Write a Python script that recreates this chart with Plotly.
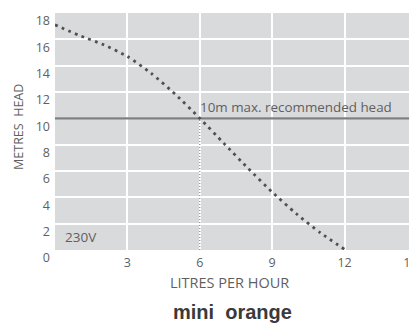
import plotly.graph_objects as go

# pump curve
flow_lph = [0, 1, 2, 3, 4, 5, 6, 7, 8, 9, 10, 11, 12]
head_m = [17.1, 16.3, 15.6, 14.7, 13.4, 11.8, 10.0, 8.1, 6.2, 4.4, 2.75, 1.3, 0.05]

x_ticks = [3, 6, 9, 12, 15]
x_labels = ["3", "6", "9", "12", "15\u00a0\u00a0\u00a0\u00a0"]
y_ticks = [0, 2, 4, 6, 8, 10, 12, 14, 16, 18]
max_head = 10
max_flow = 6

GREY = "#5f5f5f"
FONT = "Open Sans"

fig = go.Figure()

# max head reference line
fig.add_trace(go.Scatter(x=[0, 15], y=[max_head, max_head], mode="lines",
                         line=dict(color="#7d7e80", width=2.2),
                         hoverinfo="skip"))
# drop line to the flow axis
fig.add_trace(go.Scatter(x=[max_flow, max_flow], y=[0, max_head], mode="lines",
                         line=dict(color="#707070", width=1, dash="1px,2px"),
                         hoverinfo="skip"))
# pump curve
fig.add_trace(go.Scatter(x=flow_lph, y=head_m, mode="lines",
                         line=dict(color="#4f5052", width=2.8, dash="2.8px,4.4px",
                                   shape="spline", smoothing=0.6),
                         hoverinfo="skip"))

fig.add_annotation(x=max_flow, y=max_head, text="10m max. recommended head",
                   xanchor="left", yanchor="bottom", showarrow=False,
                   xshift=-2, yshift=0,
                   font=dict(family=FONT, size=13.4, color=GREY))
fig.add_annotation(x=0, y=1.0, text="230V", xanchor="left", showarrow=False,
                   xshift=8,
                   font=dict(family=FONT, size=13.5, color=GREY))

# page body has an 8px margin, so the figure is 8px smaller and margins shifted
fig.add_annotation(xref="paper", yref="paper", x=-0.099, y=0.52,
                   xanchor="center", yanchor="middle",
                   text="METRES  HEAD", textangle=-90, showarrow=False,
                   font=dict(family=FONT, size=12.5, color=GREY))
fig.add_annotation(xref="paper", yref="paper", x=0.483, y=-0.139,
                   xanchor="center", yanchor="middle",
                   text="LITRES PER HOUR", showarrow=False,
                   font=dict(family=FONT, size=14.5, color=GREY))
fig.add_annotation(xref="paper", yref="paper", x=0.489, y=-0.262,
                   xanchor="center", yanchor="middle",
                   text="<b>mini  orange</b>", showarrow=False,
                   font=dict(family="Liberation Sans", size=20, color="#3a3a3a"))

fig.update_layout(
    width=409, height=317,
    margin=dict(l=47, r=0, t=5, b=75),
    paper_bgcolor="white",
    plot_bgcolor="#d9dadc",
    showlegend=False,
    xaxis=dict(range=[0, 15], tickvals=x_ticks, ticktext=x_labels, showgrid=True,
               gridcolor="white", gridwidth=1.6, zeroline=False,
               automargin=False, ticklabeloverflow="allow",
               ticks="", ticklabelstandoff=3,
               tickfont=dict(family=FONT, size=12.5, color=GREY),
               fixedrange=True),
    yaxis=dict(range=[0, 18], tickvals=y_ticks, showgrid=True,
               gridcolor="white", gridwidth=1.6, zeroline=False,
               automargin=False, ticklabeloverflow="allow",
               ticks="", ticklabelshift=8, ticklabelstandoff=4,
               tickfont=dict(family=FONT, size=12.5, color=GREY),
               fixedrange=True),
)

fig.write_html("out.html")
